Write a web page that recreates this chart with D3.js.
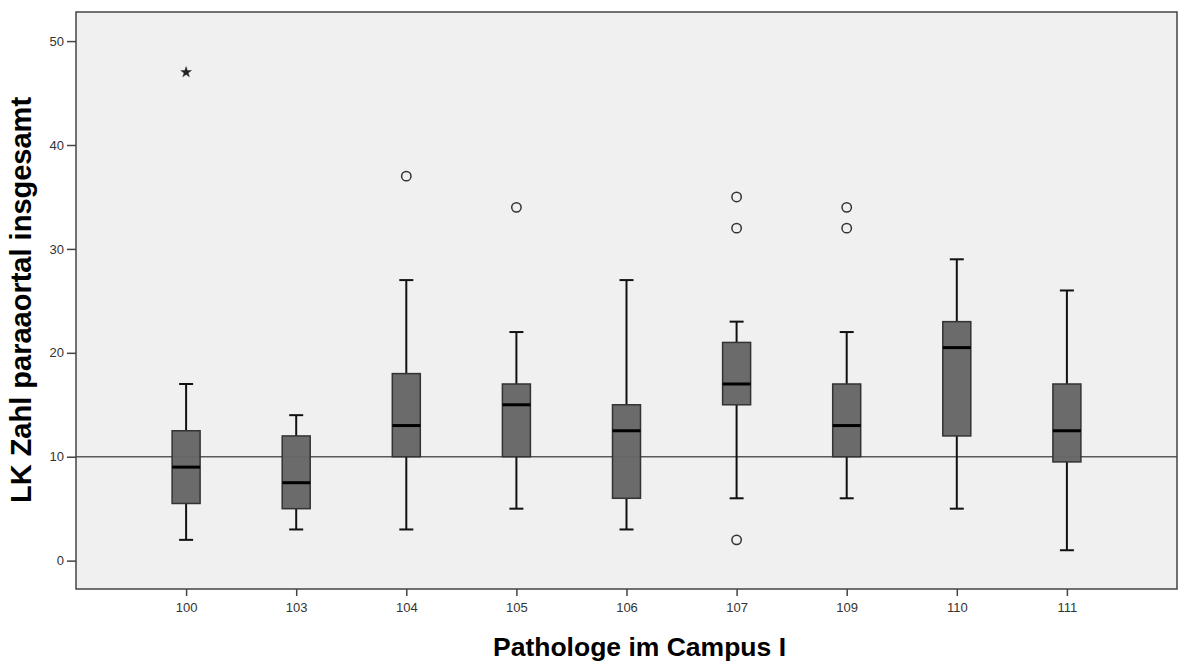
<!DOCTYPE html>
<html>
<head>
<meta charset="utf-8">
<script src="https://cdn.jsdelivr.net/npm/d3@7"></script>
<style>
  html, body { margin: 0; padding: 0; background: #ffffff; }
  svg { display: block; }
  text { font-family: "Liberation Sans", Arial, sans-serif; }
</style>
</head>
<body>
<svg id="chart" width="1180" height="666"></svg>
<script>
// Pathologists (x categories)
const categories = ["100", "103", "104", "105", "106", "107", "109", "110", "111"];
// Five-number summaries per pathologist
const whiskerLow  = [2,   3,   3,  5,  3,    6,  6,  5,    1];
const q1          = [5.5, 5,   10, 10, 6,    15, 10, 12,   9.5];
const median      = [9,   7.5, 13, 15, 12.5, 17, 13, 20.5, 12.5];
const q3          = [12.5,12,  18, 17, 15,   21, 17, 23,   17];
const whiskerHigh = [17,  14,  27, 22, 27,   23, 22, 29,   26];
// Outliers (circles) and extreme values (stars)
const outliers = [
  { cat: "104", value: 37 },
  { cat: "105", value: 34 },
  { cat: "107", value: 35 },
  { cat: "107", value: 32 },
  { cat: "107", value: 2 },
  { cat: "109", value: 34 },
  { cat: "109", value: 32 }
];
const extremes = [ { cat: "100", value: 47 } ];
const yTicks = [0, 10, 20, 30, 40, 50];
const referenceValue = 10;

const plot = { left: 76, right: 1177, top: 12, bottom: 589 };
const svg = d3.select("#chart");

const x = d3.scalePoint().domain(categories).range([plot.left, plot.right]).padding(1);
const y = d3.scaleLinear().domain([-2.73, 52.8]).range([plot.bottom, plot.top]);

// plot background
svg.append("rect")
  .attr("x", plot.left).attr("y", plot.top)
  .attr("width", plot.right - plot.left).attr("height", plot.bottom - plot.top)
  .attr("fill", "#f0f0f0");

// reference line
svg.append("line")
  .attr("x1", plot.left).attr("x2", plot.right)
  .attr("y1", y(referenceValue)).attr("y2", y(referenceValue))
  .attr("stroke", "#5a5a5a").attr("stroke-width", 1.5);

const boxW = 28, capW = 14;
const data = categories.map((c, i) => ({
  cat: c, lo: whiskerLow[i], q1: q1[i], med: median[i], q3: q3[i], hi: whiskerHigh[i]
}));

const g = svg.append("g");
const boxes = g.selectAll("g.box").data(data).join("g").attr("class", "box");

// whiskers
boxes.append("line")
  .attr("x1", d => x(d.cat)).attr("x2", d => x(d.cat))
  .attr("y1", d => y(d.hi)).attr("y2", d => y(d.q3))
  .attr("stroke", "#111").attr("stroke-width", 2);
boxes.append("line")
  .attr("x1", d => x(d.cat)).attr("x2", d => x(d.cat))
  .attr("y1", d => y(d.q1)).attr("y2", d => y(d.lo))
  .attr("stroke", "#111").attr("stroke-width", 2);
// caps
boxes.append("line")
  .attr("x1", d => x(d.cat) - capW / 2).attr("x2", d => x(d.cat) + capW / 2)
  .attr("y1", d => y(d.hi)).attr("y2", d => y(d.hi))
  .attr("stroke", "#111").attr("stroke-width", 2);
boxes.append("line")
  .attr("x1", d => x(d.cat) - capW / 2).attr("x2", d => x(d.cat) + capW / 2)
  .attr("y1", d => y(d.lo)).attr("y2", d => y(d.lo))
  .attr("stroke", "#111").attr("stroke-width", 2);
// box
boxes.append("rect")
  .attr("x", d => x(d.cat) - boxW / 2).attr("width", boxW)
  .attr("y", d => y(d.q3)).attr("height", d => y(d.q1) - y(d.q3))
  .attr("fill", "#666666").attr("fill-opacity", 0.97)
  .attr("stroke", "#333").attr("stroke-width", 1.5);
// median
boxes.append("line")
  .attr("x1", d => x(d.cat) - boxW / 2).attr("x2", d => x(d.cat) + boxW / 2)
  .attr("y1", d => y(d.med)).attr("y2", d => y(d.med))
  .attr("stroke", "#000").attr("stroke-width", 3);

// outlier circles
g.selectAll("circle.out").data(outliers).join("circle")
  .attr("class", "out")
  .attr("cx", d => x(d.cat)).attr("cy", d => y(d.value)).attr("r", 4.7)
  .attr("fill", "none").attr("stroke", "#333").attr("stroke-width", 1.5);

// extreme stars
const star = d3.symbol().type(d3.symbolStar).size(36);
g.selectAll("path.ext").data(extremes).join("path")
  .attr("class", "ext")
  .attr("d", star)
  .attr("transform", d => `translate(${x(d.cat)},${y(d.value)})`)
  .attr("fill", "#222").attr("stroke", "#222").attr("stroke-width", 0.4);

// frame
svg.append("rect")
  .attr("x", plot.left).attr("y", plot.top)
  .attr("width", plot.right - plot.left).attr("height", plot.bottom - plot.top)
  .attr("fill", "none").attr("stroke", "#444").attr("stroke-width", 1.5);

// y axis
const yAxis = d3.axisLeft(y).tickValues(yTicks).tickSize(9).tickPadding(3).tickFormat(d3.format("d"));
const ya = svg.append("g").attr("transform", `translate(${plot.left},0)`).call(yAxis);
ya.select(".domain").remove();
ya.selectAll(".tick line").attr("stroke", "#444").attr("stroke-width", 1.5);
ya.selectAll(".tick text").attr("fill", "#333").style("font-size", "13px")
  .style("font-family", '"Liberation Sans", Arial, sans-serif');

// x axis
const xAxis = d3.axisBottom(x).tickSize(7).tickPadding(7);
const xa = svg.append("g").attr("transform", `translate(0,${plot.bottom})`).call(xAxis);
xa.select(".domain").remove();
xa.selectAll(".tick line").attr("stroke", "#444").attr("stroke-width", 1.5);
xa.selectAll(".tick text").attr("fill", "#333").style("font-size", "13px")
  .style("font-family", '"Liberation Sans", Arial, sans-serif');

// axis titles
svg.append("text")
  .attr("x", (plot.left + plot.right) / 2 + 13).attr("y", 656)
  .attr("text-anchor", "middle")
  .style("font-size", "26.5px").style("font-weight", "bold").attr("fill", "#000")
  .text("Pathologe im Campus I");

svg.append("text")
  .attr("transform", `translate(31,300) rotate(-90)`)
  .attr("text-anchor", "middle")
  .style("font-size", "29px").style("font-weight", "bold").attr("fill", "#000")
  .text("LK Zahl paraaortal insgesamt");
</script>
</body>
</html>
